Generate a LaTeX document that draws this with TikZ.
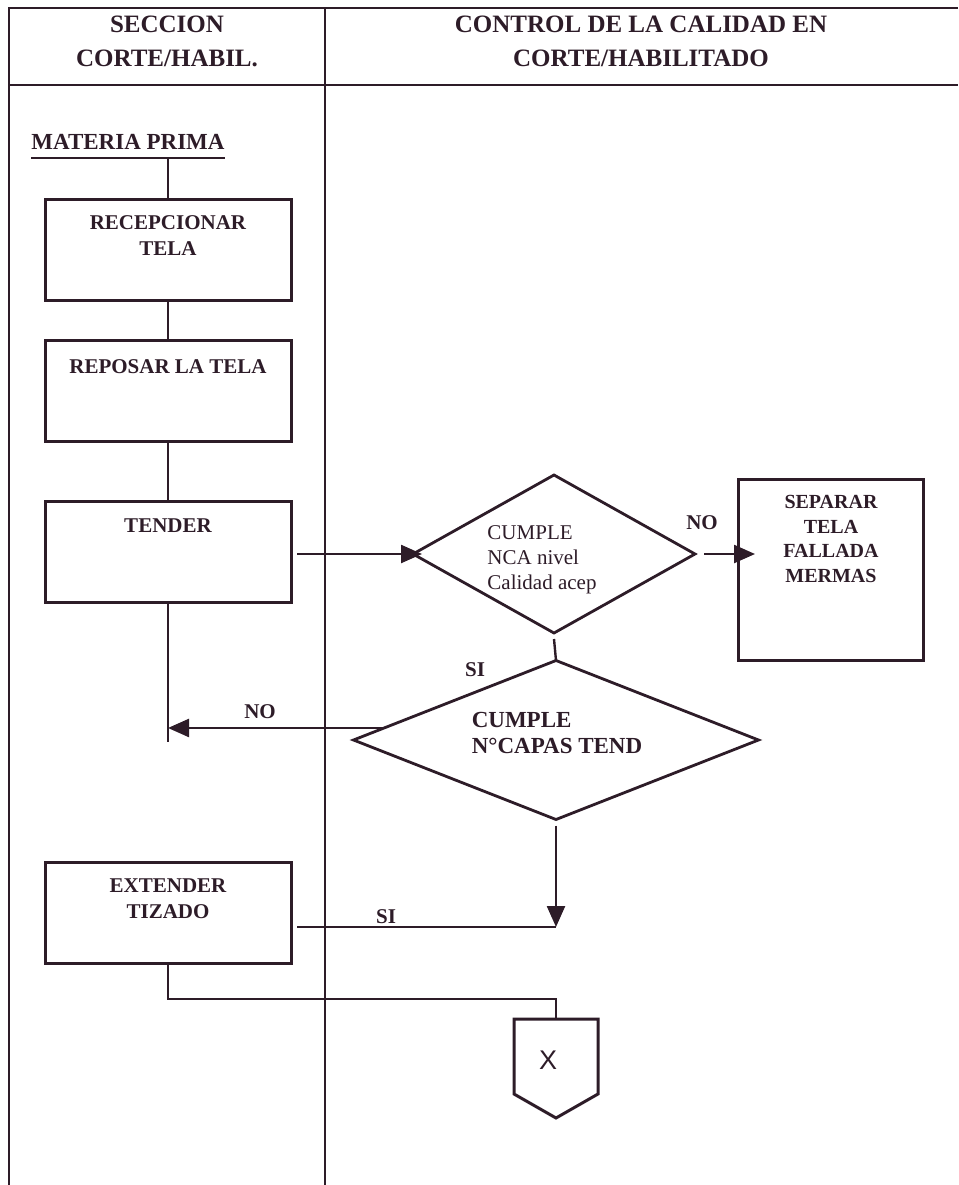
\documentclass[tikz,border=0pt]{standalone}
\usepackage{fontspec}
\setmainfont{Liberation Serif}
\setsansfont{Liberation Sans}
\usetikzlibrary{shapes.geometric,arrows.meta}
\definecolor{tinta}{RGB}{45,28,40}

\begin{document}
\begin{tikzpicture}[x=1pt,y=-1pt,
  every node/.style={text=tinta},
  marco/.style={draw=tinta,line width=1.8pt},
  linea/.style={draw=tinta,line width=2.4pt},
  flecha/.style={linea,-{Triangle[length=21pt,width=18pt]}},
  caja/.style={draw=tinta,line width=3pt,minimum width=246pt,minimum height=101pt,inner sep=0pt,outer sep=0pt},
  rombo/.style={draw=tinta,line width=2.8pt,diamond,inner sep=0pt,outer sep=0pt},
  conector/.style={draw=tinta,line width=3pt,line join=miter},
  texto/.style={font=\bfseries\fontsize{21}{26}\selectfont,align=center},
  etiqueta/.style={font=\bfseries\fontsize{21}{24}\selectfont}]
\useasboundingbox (0,0) rectangle (958,1185);
\draw[marco] (9,1185) -- (9,8) -- (958,8);
\draw[marco] (9,85) -- (958,85);
\draw[marco] (325,8) -- (325,1185);
\node[texto,font=\bfseries\fontsize{25}{34}\selectfont] (h1) at (167,41) {SECCION\\CORTE/HABIL.};
\node[texto,font=\bfseries\fontsize{25}{34}\selectfont] (h2) at (641,41) {CONTROL DE LA CALIDAD EN\\CORTE/HABILITADO};

\node[etiqueta,font=\bfseries\fontsize{23}{26}\selectfont,inner xsep=0pt] (mp) at (128,142) {MATERIA PRIMA};
\node[caja] (box1) at (168,249.5) {};
\node[texto] (t1) at (168,236) {RECEPCIONAR\\TELA};
\node[caja] (box2) at (168,390.5) {};
\node[texto] (t2) at (168,367) {REPOSAR LA TELA};
\node[caja] (box3) at (168,551.5) {};
\node[texto] (t3) at (168,526) {TENDER};
\node[caja] (box4) at (168,912.5) {};
\node[texto] (t4) at (168,899) {EXTENDER\\TIZADO};
\node[caja,minimum width=185pt,minimum height=181pt] (box5) at (830.5,569.5) {};
\node[texto,font=\bfseries\fontsize{20}{24.7}\selectfont] (t5) at (831,539) {SEPARAR\\TELA\\FALLADA\\MERMAS};

\node[rombo,minimum width=282pt,minimum height=158pt] (d1) at (554,554) {};
\node[font=\fontsize{21}{25}\selectfont,align=left] (td1) at (542,560) {CUMPLE\\NCA nivel\\Calidad acep};
\node[rombo,minimum width=405pt,minimum height=159pt] (d2) at (556,740) {};
\node[font=\bfseries\fontsize{23}{26}\selectfont,align=left] (td2) at (557,733) {CUMPLE\\N°CAPAS TEND};

\coordinate (c1) at (168,742);
\coordinate (c2) at (556,927);
\coordinate (xc) at (556,1019);

\draw[linea] ([yshift=-16pt]mp.west) -- ([yshift=-16pt]mp.east);
\draw[linea] (box1.north) -- ([yshift=-16pt]mp.west -| box1.north);
\draw[linea] (box1.south) -- (box2.north);
\draw[linea] (box2.south) -- (box3.north);
\draw[linea] (box3.south) -- (c1);
\draw[flecha] ([xshift=6pt]box3.east |- d1.west) -- ([xshift=9pt]d1.west);
\draw[flecha] ([xshift=9pt]d1.east) -- ([xshift=17pt]box5.west |- d1.east);
\node[etiqueta] (no1) at (702,523) {NO};
\draw[linea] ([yshift=-6pt]d1.south) -- (d2.north);
\node[etiqueta] (si1) at (475,670) {SI};
\draw[flecha] (d2.176) -- (d2.176 -| c1);
\node[etiqueta] (no2) at (260,712) {NO};
\draw[flecha] ([yshift=-6pt]d2.south) -- (c2);
\draw[linea] ([xshift=6pt]box4.east |- c2) -- (c2);
\node[etiqueta] (si2) at (386,917) {SI};
\draw[linea] (box4.south) -- ++(0,36) -| (xc);
\draw[conector] (xc) ++(-42,0) -- ++(84,0) -- ++(0,75) -- ++(-42,24) -- ++(-42,-24) -- cycle;
\node[font=\sffamily\fontsize{27}{27}\selectfont] (x) at (548,1060) {X};
\end{tikzpicture}
\end{document}
